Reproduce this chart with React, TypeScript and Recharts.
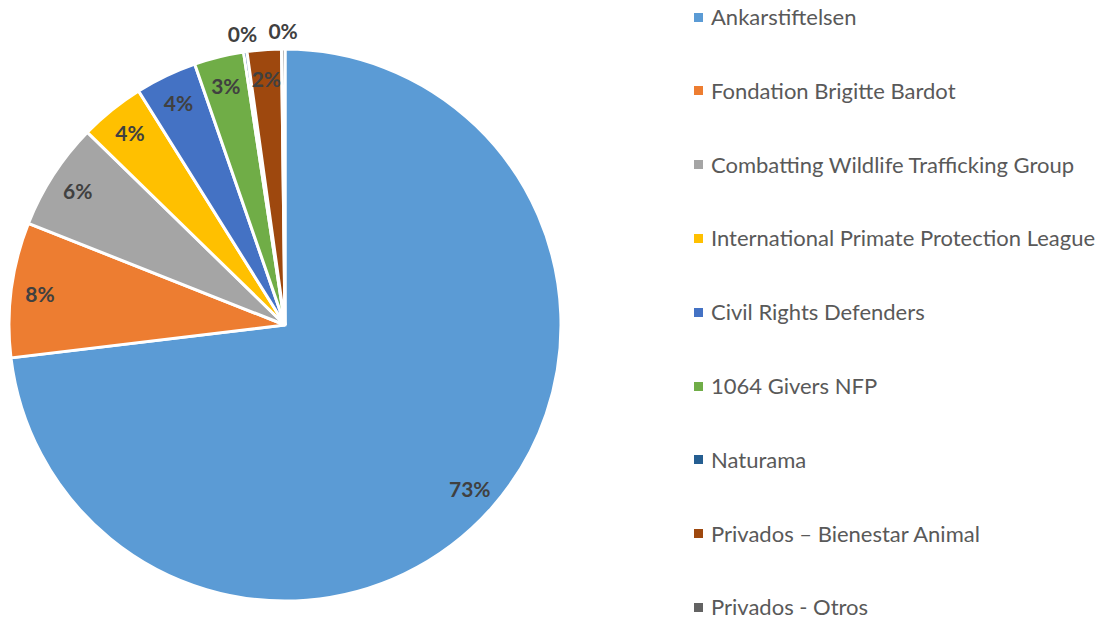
import { PieChart, Pie, Cell } from "recharts";

// Share of donations per recipient (%)
const NAMES = [
  "Ankarstiftelsen",
  "Fondation Brigitte Bardot",
  "Combatting Wildlife Trafficking Group",
  "International Primate Protection League",
  "Civil Rights Defenders",
  "1064 Givers NFP",
  "Naturama",
  "Privados – Bienestar Animal",
  "Privados - Otros",
];
const VALUES = [73.1, 7.9, 6.3, 3.8, 3.6, 2.9, 0.2, 2.0, 0.2];

// Office default palette
const COLORS = [
  "#5B9BD5",
  "#ED7D31",
  "#A5A5A5",
  "#FFC000",
  "#4472C4",
  "#70AD47",
  "#255E91",
  "#9E480E",
  "#636363",
];

const data = NAMES.map((name, i) => ({ name, value: VALUES[i] }));

const FONT = "Lato, 'Open Sans', sans-serif";
const RADIAN = Math.PI / 180;

interface LabelProps {
  cx: number;
  cy: number;
  midAngle: number;
  outerRadius: number;
  percent: number;
}

function renderLabel({ cx, cy, midAngle, outerRadius, percent }: LabelProps) {
  // tiny slices get their label outside the pie, like Excel's best fit
  const r = percent < 0.005 ? outerRadius + 19 : outerRadius * 0.895;
  const x = cx + r * Math.cos(-midAngle * RADIAN);
  const y = cy + r * Math.sin(-midAngle * RADIAN);
  return (
    <text
      x={x}
      y={y}
      fill="#404040"
      fontFamily={FONT}
      fontSize={21}
      fontWeight={700}
      textAnchor="middle"
      dominantBaseline="central"
    >
      {`${Math.round(percent * 100)}%`}
    </text>
  );
}

function LegendList() {
  return (
    <div style={{ position: "absolute", left: 694, top: 3, width: 410 }}>
      {NAMES.map((name, i) => (
        <div
          key={name}
          style={{
            position: "absolute",
            left: 0,
            top: i * 73.8,
            height: 28,
            display: "flex",
            alignItems: "center",
            whiteSpace: "nowrap",
            fontFamily: FONT,
            fontSize: 22,
            lineHeight: "28px",
            color: "#595959",
          }}
        >
          <span
            style={{
              display: "inline-block",
              width: 9,
              height: 9,
              background: COLORS[i],
              marginRight: 8,
            }}
          />
          {name}
        </div>
      ))}
    </div>
  );
}

export default function App() {
  return (
    <div style={{ position: "absolute", left: 0, top: 0, width: 1104, height: 622, background: "#fff" }}>
      <PieChart width={1104} height={622} margin={{ top: 0, right: 0, bottom: 0, left: 0 }}>
        <Pie
          data={data}
          dataKey="value"
          nameKey="name"
          cx={285}
          cy={325}
          outerRadius={276}
          startAngle={90}
          endAngle={-270}
          stroke="#fff"
          strokeWidth={3}
          label={renderLabel}
          labelLine={false}
          isAnimationActive={false}
        >
          {data.map((d, i) => (
            <Cell key={d.name} fill={COLORS[i]} />
          ))}
        </Pie>
      </PieChart>
      <LegendList />
    </div>
  );
}
